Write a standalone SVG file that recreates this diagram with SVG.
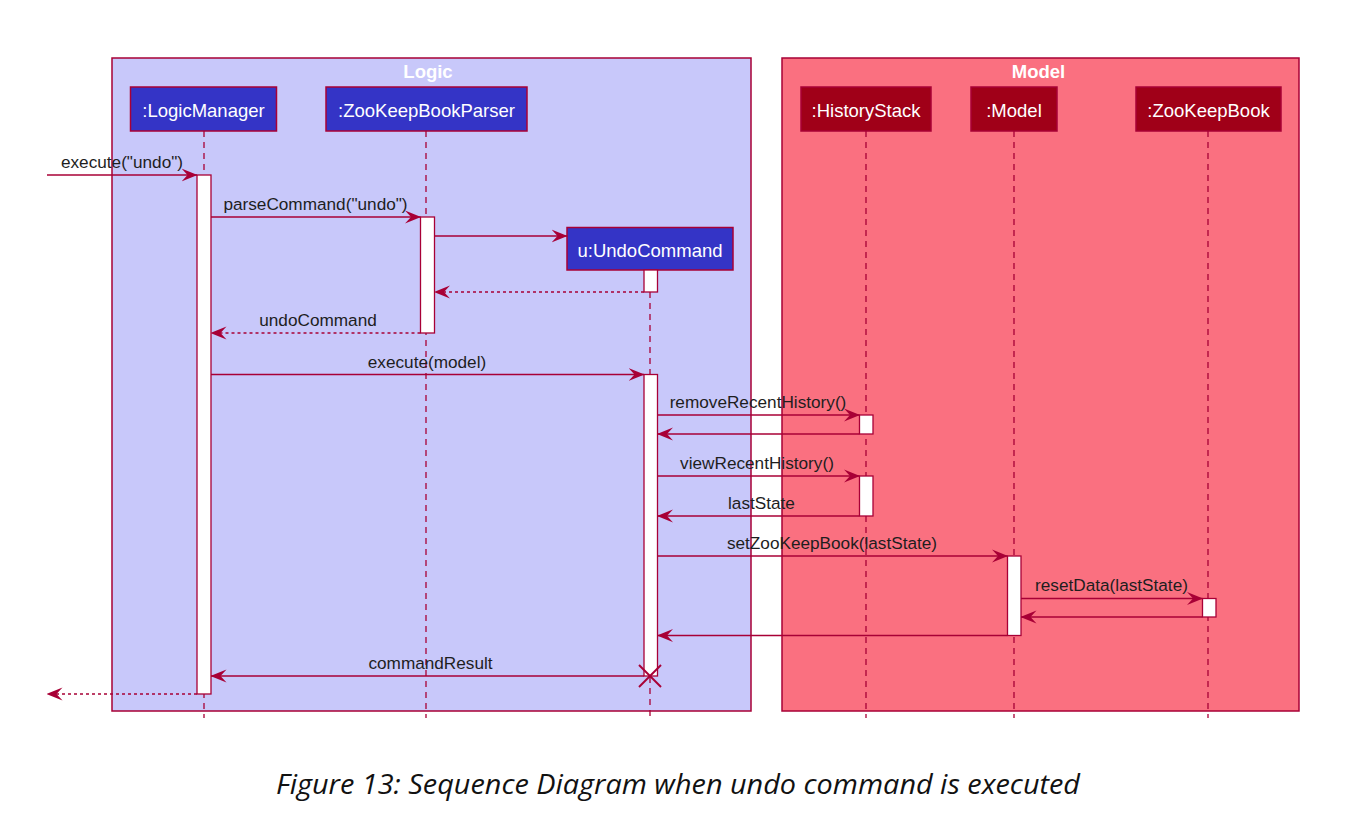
<svg xmlns="http://www.w3.org/2000/svg" width="1348" height="814" viewBox="0 0 1348 814">
<defs>
<style>
.frame{stroke:#A80036;stroke-width:1.5}
.ftitle{font-family:"Liberation Sans",Arial,sans-serif;font-weight:bold;font-size:18.5px;fill:#FFFFFF;text-anchor:middle}
.pbox{stroke:#A80036;stroke-width:1.5}
.plog{fill:#3434C6}
.pmod{fill:#A00018}
.ptxt{font-family:"Liberation Sans",Arial,sans-serif;font-size:18.5px;fill:#FFFFFF;text-anchor:middle}
.life{stroke:#A80036;stroke-width:1.3;stroke-dasharray:6,5;fill:none}
.act{fill:#FFFFFF;stroke:#A80036;stroke-width:1.3}
.msg{stroke:#A80036;stroke-width:1.3;fill:none}
.ret{stroke:#A80036;stroke-width:1.3;fill:none;stroke-dasharray:3,3}
.lbl{font-family:"Liberation Sans",Arial,sans-serif;font-size:17.2px;fill:#1E1E1E;text-anchor:middle}
.cap{font-family:"Open Sans","Noto Sans",sans-serif;font-style:italic;font-size:28px;fill:#111111;text-anchor:middle}
</style>
<marker id="ah" viewBox="0 0 16 14" refX="15.5" refY="7" markerWidth="16" markerHeight="14" markerUnits="userSpaceOnUse" orient="auto">
<path d="M0,0.5 L16,7 L0,13.5 L6,7 Z" fill="#A80036" stroke="none"/>
</marker>
</defs>
<rect x="0" y="0" width="1348" height="814" fill="#FFFFFF"/>

<g id="frame-logic">
<rect class="frame" x="112" y="58" width="639" height="653" fill="#C8C8FA"/>
<text class="ftitle" x="428" y="78">Logic</text>
</g>
<g id="frame-model">
<rect class="frame" x="782" y="58" width="517" height="653" fill="#FA7080"/>
<text class="ftitle" x="1038.5" y="78">Model</text>
</g>

<g id="lifelines">
<line class="life" x1="204" y1="131" x2="204" y2="718"/>
<line class="life" x1="426" y1="131" x2="426" y2="718"/>
<line class="life" x1="650" y1="270" x2="650" y2="718"/>
<line class="life" x1="866" y1="131" x2="866" y2="718"/>
<line class="life" x1="1014" y1="131" x2="1014" y2="718"/>
<line class="life" x1="1208" y1="131" x2="1208" y2="718"/>
</g>

<g id="LogicManager">
<rect class="pbox plog" x="130.5" y="87" width="146" height="44"/>
<text class="ptxt" x="203.5" y="116.5">:LogicManager</text>
<rect class="act" x="197" y="175" width="14" height="519"/>
</g>
<g id="ZooKeepBookParser">
<rect class="pbox plog" x="326" y="87" width="201" height="44"/>
<text class="ptxt" x="426.5" y="116.5">:ZooKeepBookParser</text>
<rect class="act" x="420.5" y="217" width="14" height="116"/>
</g>
<g id="UndoCommand">
<rect class="pbox plog" x="567" y="227.5" width="166" height="42.5"/>
<text class="ptxt" x="650" y="256.5">u:UndoCommand</text>
<rect class="act" x="644" y="270" width="13.5" height="22"/>
<rect class="act" x="644" y="374.5" width="13.5" height="301.5"/>
</g>
<g id="HistoryStack">
<rect class="pbox pmod" x="801" y="87" width="130" height="44"/>
<text class="ptxt" x="866" y="116.5">:HistoryStack</text>
<rect class="act" x="859.5" y="415" width="13.5" height="19"/>
<rect class="act" x="859.5" y="476" width="13.5" height="40"/>
</g>
<g id="Model">
<rect class="pbox pmod" x="971" y="87" width="86" height="44"/>
<text class="ptxt" x="1014" y="116.5">:Model</text>
<rect class="act" x="1007.5" y="556" width="13.5" height="79.5"/>
</g>
<g id="ZooKeepBook">
<rect class="pbox pmod" x="1136" y="87" width="145" height="44"/>
<text class="ptxt" x="1208.5" y="116.5">:ZooKeepBook</text>
<rect class="act" x="1202.5" y="598.5" width="13.5" height="18.5"/>
</g>

<g id="connectors">
<line class="msg" x1="47" y1="175" x2="197" y2="175" marker-end="url(#ah)"/>
<line class="msg" x1="211" y1="217" x2="420.5" y2="217" marker-end="url(#ah)"/>
<line class="msg" x1="434.5" y1="236" x2="567" y2="236" marker-end="url(#ah)"/>
<line class="ret" x1="644" y1="292" x2="434.5" y2="292" marker-end="url(#ah)"/>
<line class="ret" x1="420.5" y1="333" x2="211" y2="333" marker-end="url(#ah)"/>
<line class="msg" x1="211" y1="374.5" x2="644" y2="374.5" marker-end="url(#ah)"/>
<line class="msg" x1="657.5" y1="415" x2="859.5" y2="415" marker-end="url(#ah)"/>
<line class="msg" x1="859.5" y1="434" x2="657.5" y2="434" marker-end="url(#ah)"/>
<line class="msg" x1="657.5" y1="476" x2="859.5" y2="476" marker-end="url(#ah)"/>
<line class="msg" x1="859.5" y1="516" x2="657.5" y2="516" marker-end="url(#ah)"/>
<line class="msg" x1="657.5" y1="556" x2="1007.5" y2="556" marker-end="url(#ah)"/>
<line class="msg" x1="1021" y1="598.5" x2="1202.5" y2="598.5" marker-end="url(#ah)"/>
<line class="msg" x1="1202.5" y1="617" x2="1021" y2="617" marker-end="url(#ah)"/>
<line class="msg" x1="1007.5" y1="635.5" x2="657.5" y2="635.5" marker-end="url(#ah)"/>
<line class="msg" x1="644" y1="676" x2="211" y2="676" marker-end="url(#ah)"/>
<line class="ret" x1="197" y1="694" x2="47" y2="694" marker-end="url(#ah)"/>
<line x1="639" y1="665" x2="661" y2="687" stroke="#A80036" stroke-width="2"/>
<line x1="661" y1="665" x2="639" y2="687" stroke="#A80036" stroke-width="2"/>
</g>

<g id="labels">
<text class="lbl" x="122" y="168">execute("undo")</text>
<text class="lbl" x="315.5" y="210">parseCommand("undo")</text>
<text class="lbl" x="318" y="326">undoCommand</text>
<text class="lbl" x="427" y="367.5">execute(model)</text>
<text class="lbl" x="758" y="408">removeRecentHistory()</text>
<text class="lbl" x="757" y="469">viewRecentHistory()</text>
<text class="lbl" x="761.5" y="509">lastState</text>
<text class="lbl" x="832" y="549">setZooKeepBook(lastState)</text>
<text class="lbl" x="1111.5" y="591">resetData(lastState)</text>
<text class="lbl" x="430.5" y="669">commandResult</text>
</g>

<text class="cap" x="678" y="794" textLength="804" lengthAdjust="spacingAndGlyphs">Figure 13: Sequence Diagram when undo command is executed</text>
</svg>
